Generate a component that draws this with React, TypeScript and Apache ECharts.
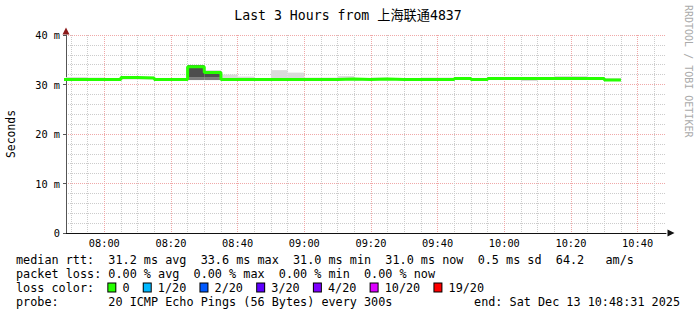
import React, { useEffect, useRef } from 'react';
import * as echarts from 'echarts';

const TITLE = 'Last 3 Hours from 上海联通4837';
const WATERMARK = 'RRDTOOL / TOBI OETIKER';
const Y_NAME = 'Seconds';
const RANGE_START = '07:48:31';
const RANGE_HOURS = 3;
const SLOT_MIN = 5;

// 5-minute slots (start time of each slot)
const slotStarts = [
  '07:45', '07:50', '07:55', '08:00', '08:05', '08:10', '08:15', '08:20', '08:25', '08:30',
  '08:35', '08:40', '08:45', '08:50', '08:55', '09:00', '09:05', '09:10', '09:15', '09:20',
  '09:25', '09:30', '09:35', '09:40', '09:45', '09:50', '09:55', '10:00', '10:05', '10:10',
  '10:15', '10:20', '10:25', '10:30',
];
const medianRtt = [
  31.0, 31.0, 31.0, 31.0, 31.4, 31.3, 31.0, 31.0, 33.6, 32.4,
  31.0, 31.0, 31.0, 31.0, 31.0, 31.0, 31.0, 31.1, 31.0, 31.1,
  31.0, 31.0, 31.0, 31.0, 31.2, 31.0, 31.2, 31.2, 31.2, 31.2,
  31.2, 31.2, 31.2, 30.9,
];
const smokeMin = [
  30.9, 30.9, 30.9, 30.9, 31.0, 31.0, 30.9, 30.9, 30.9, 30.9,
  30.9, 30.9, 30.9, 30.9, 30.9, 30.9, 30.9, 30.9, 30.8, 30.9,
  30.9, 30.9, 30.9, 30.9, 30.9, 30.9, 30.9, 30.9, 30.7, 30.9,
  30.9, 30.9, 30.9, 30.8,
];
const smokeMax = [
  31.5, 31.5, 31.4, 31.3, 31.7, 31.6, 31.2, 31.2, 33.9, 32.9,
  32.0, 31.6, 31.3, 32.9, 32.4, 31.4, 31.4, 31.7, 31.3, 31.4,
  31.2, 31.2, 31.4, 31.4, 31.4, 31.3, 31.4, 31.4, 31.4, 31.4,
  31.7, 31.7, 31.4, 31.3,
];
// dense (dark) smoke part, only where many pings spread
const denseLo: (number | null)[] = [
  null, null, null, null, null, null, null, null, 31.45, 31.45,
  null, null, null, null, null, null, null, null, null, null,
  null, null, null, null, null, null, null, null, null, null,
  null, null, null, null,
];
const denseHi: (number | null)[] = [
  null, null, null, null, null, null, null, null, 33.9, 32.3,
  null, null, null, null, null, null, null, null, null, null,
  null, null, null, null, null, null, null, null, null, null,
  null, null, null, null,
];

const xTickLabels = ['08:00', '08:20', '08:40', '09:00', '09:20', '09:40', '10:00', '10:20', '10:40'];
const Y_MAX = 40;
const Y_MAJOR = 10;
const Y_MINOR = 2;

const rttStats = [31.2, 33.6, 31.0, 31.0, 0.5, 64.2];
const lossStats = [0, 0, 0, 0];
const lossLabels = ['0', '1/20', '2/20', '3/20', '4/20', '10/20', '19/20'];
const lossColors = ['#26ff00', '#00b8ff', '#0059ff', '#5e00ff', '#7e00ff', '#dd00ff', '#ff0000'];
const PROBE = '20 ICMP Echo Pings (56 Bytes) every 300s';
const END_TEXT = 'end: Sat Dec 13 10:48:31 2025';

const MONO = '"DejaVu Sans Mono", "Noto Sans CJK SC", monospace';

const toMin = (s: string) => {
  const p = s.split(':').map(Number);
  return p[0] * 60 + p[1] + (p[2] || 0) / 60;
};
const fmtHM = (m: number) => {
  const h = Math.floor(m / 60);
  const mm = Math.round(m - h * 60);
  return `${String(h).padStart(2, '0')}:${String(mm).padStart(2, '0')}`;
};

export default function App() {
  const ref = useRef<HTMLDivElement>(null);
  useEffect(() => {
    if (!ref.current) return;
    const chart = echarts.init(ref.current, undefined, { renderer: 'svg' });

    const xMin = toMin(RANGE_START);
    const xMax = xMin + RANGE_HOURS * 60;
    const majorX = xTickLabels.map(toMin);
    const minorX: number[] = [];
    for (let t = Math.ceil(xMin / SLOT_MIN) * SLOT_MIN; t <= xMax; t += SLOT_MIN) minorX.push(t);

    const starts = slotStarts.map(toMin);
    const lightData = starts.map((s, i) => [s, s + SLOT_MIN, smokeMin[i], smokeMax[i]]);
    const midData = starts
      .map((s, i) => (denseLo[i] != null ? [s, s + SLOT_MIN, smokeMin[i], denseLo[i] as number] : null))
      .filter(Boolean);
    const darkData = starts
      .map((s, i) => (denseLo[i] != null ? [s, s + SLOT_MIN, denseLo[i] as number, denseHi[i] as number] : null))
      .filter(Boolean);
    const medData = starts.map((s, i) => [s, medianRtt[i]]);
    medData.push([starts[starts.length - 1] + SLOT_MIN, medianRtt[medianRtt.length - 1]]);

    const band = (name: string, data: any[], color: string) => ({
      type: 'custom',
      name,
      data,
      encode: { x: [0, 1], y: [2, 3] },
      renderItem: (params: any, api: any) => {
        const p1 = api.coord([api.value(0), api.value(3)]);
        const p2 = api.coord([api.value(1), api.value(2)]);
        const cs = params.coordSys;
        const r = echarts.graphic.clipRectByRect(
          { x: p1[0], y: p1[1], width: p2[0] - p1[0], height: p2[1] - p1[1] },
          { x: cs.x, y: cs.y, width: cs.width, height: cs.height }
        );
        return r ? { type: 'rect', shape: r, style: { fill: color } } : null;
      },
    });

    const fmtStat = (v: number, unit: string, tag: string, d: number) => `${v.toFixed(d)} ${unit} ${tag}`;
    const line1 =
      'median rtt:  ' +
      [
        fmtStat(rttStats[0], 'ms', 'avg', 1),
        fmtStat(rttStats[1], 'ms', 'max', 1),
        fmtStat(rttStats[2], 'ms', 'min', 1),
        fmtStat(rttStats[3], 'ms', 'now', 1),
        fmtStat(rttStats[4], 'ms', 'sd', 1),
      ].join('  ') +
      `  ${rttStats[5].toFixed(1)}   am/s`;
    const line2 =
      'packet loss: ' +
      [
        fmtStat(lossStats[0], '%', 'avg', 2),
        fmtStat(lossStats[1], '%', 'max', 2),
        fmtStat(lossStats[2], '%', 'min', 2),
        fmtStat(lossStats[3], '%', 'now', 2),
      ].join('  ');

    const rich: any = {
      t: { fontFamily: MONO, fontSize: 11.8, color: '#000' },
    };
    let line3 = '{t|loss color:  }';
    lossLabels.forEach((lab, i) => {
      rich['b' + i] = {
        width: 7,
        height: 8,
        backgroundColor: lossColors[i],
        borderColor: '#000',
        borderWidth: 1,
      };
      line3 += `{b${i}|}{t| ${lab}${i < lossLabels.length - 1 ? '  ' : ''}}`;
    });

    const legendFont = { fontFamily: MONO, fontSize: 11.8, fill: '#000' };

    chart.setOption({
      animation: false,
      backgroundColor: '#ffffff',
      grid: { left: 66, right: 31, top: 35, bottom: 82, containLabel: false, outerBoundsMode: 'none' },
      xAxis: [
        {
          type: 'value',
          position: 'bottom',
          min: xMin,
          max: xMax,
          axisLine: { show: false },
          axisTick: { show: false, customValues: minorX },
          axisLabel: { show: false },
          splitLine: { show: true, lineStyle: { color: '#cccccc', width: 1, type: [1, 1] } },
        },
        {
          type: 'value',
          position: 'bottom',
          min: xMin,
          max: xMax,
          axisLine: {
            show: true,
            lineStyle: { color: '#111', width: 1 },
            symbol: ['none', 'triangle'],
            symbolSize: [7, 7],
            symbolOffset: [0, 5],
          },
          axisTick: { show: false, customValues: majorX },
          axisLabel: {
            customValues: majorX,
            formatter: (v: number) => fmtHM(v),
            fontFamily: MONO,
            fontSize: 10.3,
            color: '#000',
            margin: 5,
          },
          splitLine: { show: true, lineStyle: { color: '#f0a8a8', width: 1, type: [1, 1] } },
        },
      ],
      yAxis: [
        {
          type: 'value',
          position: 'left',
          min: 0,
          max: Y_MAX,
          interval: Y_MINOR,
          axisLine: {
            show: true,
            lineStyle: { color: '#8b1a1a', width: 0 },
            symbol: ['none', 'triangle'],
            symbolSize: [7, 7],
            symbolOffset: [0, 4],
          },
          axisTick: { show: false },
          axisLabel: { show: false },
          splitLine: { show: true, lineStyle: { color: '#cccccc', width: 1, type: [1, 1] } },
        },
        {
          type: 'value',
          position: 'left',
          min: 0,
          max: Y_MAX,
          interval: Y_MAJOR,
          name: Y_NAME,
          nameLocation: 'middle',
          nameGap: 49,
          nameRotate: 90,
          nameTextStyle: { fontFamily: MONO, fontSize: 11.4, color: '#000' },
          axisLine: { show: true, lineStyle: { color: '#555', width: 1 } },
          axisTick: { show: true, length: 3, lineStyle: { color: '#555' } },
          axisLabel: {
            formatter: (v: number) => (v === 0 ? '0' : `${v} m`),
            fontFamily: MONO,
            fontSize: 10.3,
            color: '#000',
            margin: 6,
          },
          splitLine: { show: true, lineStyle: { color: '#f0a8a8', width: 1, type: [1, 1] } },
        },
      ],
      series: [
        band('smoke', lightData, '#dadada'),
        band('smoke-mid', midData, '#7c7c7c'),
        band('smoke-dense', darkData, '#4d4d4d'),
        {
          type: 'line',
          name: 'median rtt',
          data: medData,
          step: 'end',
          symbol: 'none',
          clip: true,
          lineStyle: { color: lossColors[0], width: 3 },
          z: 5,
        },
      ],
      graphic: [
        {
          type: 'text',
          x: 348,
          y: 15,
          style: { text: TITLE, fontFamily: MONO, fontSize: 13.2, fill: '#000', align: 'center', verticalAlign: 'middle' },
        },
        {
          type: 'text',
          x: 688,
          y: 5,
          rotation: -Math.PI / 2,
          style: { text: WATERMARK, fontFamily: MONO, fontSize: 10, fill: '#aaaaaa', align: 'left', verticalAlign: 'middle' },
        },
        { type: 'text', x: 16, y: 259.5, style: { text: line1, ...legendFont, verticalAlign: 'middle' } },
        { type: 'text', x: 16, y: 273.5, style: { text: line2, ...legendFont, verticalAlign: 'middle' } },
        { type: 'text', x: 16, y: 287.5, style: { text: line3, rich, ...legendFont, verticalAlign: 'middle' } },
        { type: 'text', x: 16, y: 301.5, style: { text: 'probe:       ' + PROBE, ...legendFont, verticalAlign: 'middle' } },
        { type: 'text', x: 680, y: 301.5, style: { text: END_TEXT, ...legendFont, align: 'right', verticalAlign: 'middle' } },
      ],
    });
    return () => chart.dispose();
  }, []);
  return <div ref={ref} style={{ position: 'fixed', left: 0, top: 0, width: 697, height: 315, background: '#fff' }} />;
}
